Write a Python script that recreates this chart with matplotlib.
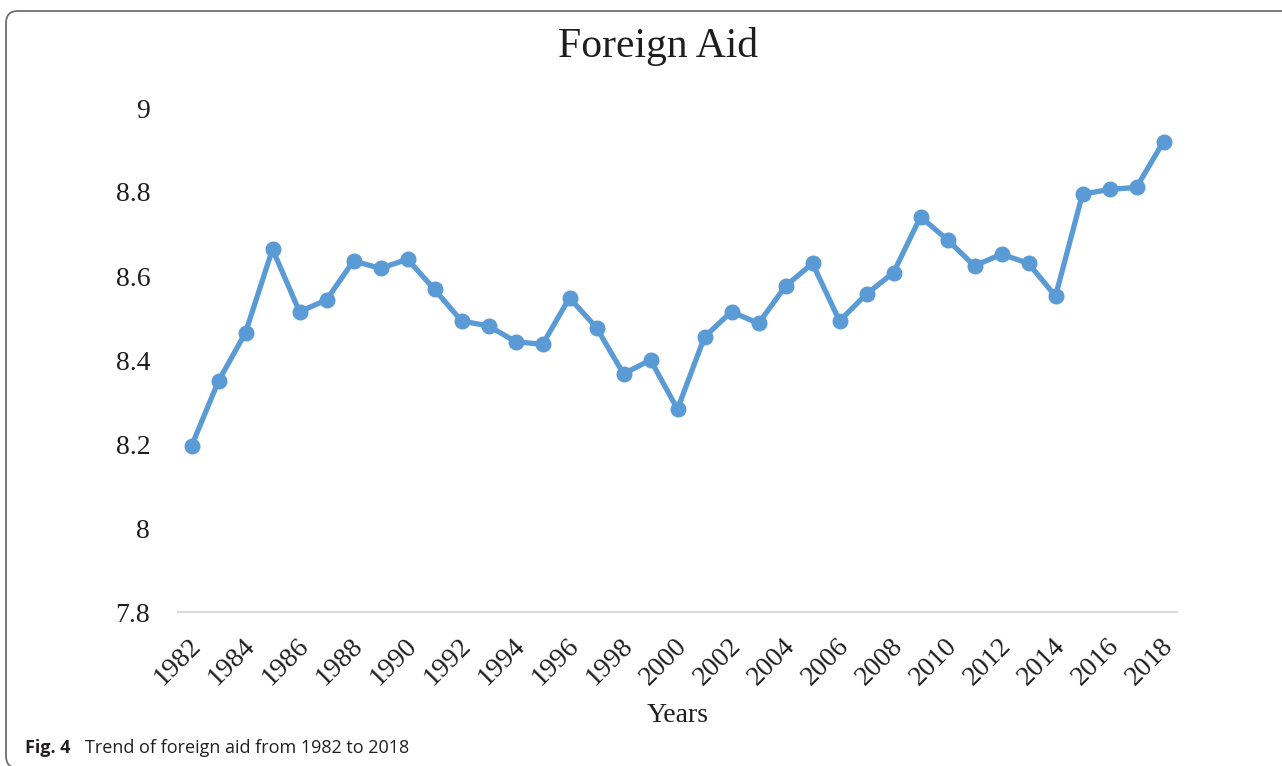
import matplotlib
matplotlib.use("Agg")
import matplotlib.pyplot as plt
from matplotlib.patches import FancyBboxPatch
import matplotlib.transforms as mtransforms

years = [1982, 1983, 1984, 1985, 1986, 1987, 1988, 1989, 1990, 1991,
         1992, 1993, 1994, 1995, 1996, 1997, 1998, 1999, 2000, 2001,
         2002, 2003, 2004, 2005, 2006, 2007, 2008, 2009, 2010, 2011,
         2012, 2013, 2014, 2015, 2016, 2017, 2018]
foreign_aid = [8.195, 8.350, 8.465, 8.664, 8.515, 8.543, 8.636, 8.618, 8.640, 8.568,
               8.493, 8.481, 8.444, 8.437, 8.548, 8.477, 8.367, 8.400, 8.283, 8.455,
               8.515, 8.487, 8.576, 8.630, 8.493, 8.557, 8.608, 8.741, 8.686, 8.624,
               8.652, 8.630, 8.552, 8.795, 8.806, 8.811, 8.920]
xtick_years = [1982, 1984, 1986, 1988, 1990, 1992, 1994, 1996, 1998, 2000,
               2002, 2004, 2006, 2008, 2010, 2012, 2014, 2016, 2018]
ytick_values = [7.8, 8.0, 8.2, 8.4, 8.6, 8.8, 9.0]
ytick_labels = ["7.8", "8", "8.2", "8.4", "8.6", "8.8", "9"]

W, H = 1282, 766
fig = plt.figure(figsize=(W / 100, H / 100), dpi=100)

# background frame (pixel coordinates)
bg = fig.add_axes([0, 0, 1, 1], zorder=-1)
bg.set_xlim(0, W)
bg.set_ylim(H, 0)
bg.axis("off")
frame = FancyBboxPatch((6, 11), 1320, 757, boxstyle="round,pad=0,rounding_size=12",
                       facecolor="white", edgecolor="#6f6f6f", linewidth=1.3)
bg.add_patch(frame)

serif = ["Liberation Serif", "DejaVu Serif"]

ax = fig.add_axes([178 / W, 1 - 612 / H, (1177 - 178) / W, (612 - 108) / H])
ax.set_facecolor("none")
ax.plot(years, foreign_aid, color="#5B9BD5", linewidth=3.8, marker="o",
        markersize=10.5, solid_joinstyle="round")
ax.set_xlim(1981.5, 2018.5)
ax.set_ylim(7.8, 9.0)
ax.set_yticks(ytick_values)
ax.set_yticklabels(ytick_labels, fontfamily=serif, fontsize=20, color="#1e1e1e")
ax.set_xticks(xtick_years)
ax.set_xticklabels([str(y) for y in xtick_years], fontfamily=serif, fontsize=20,
                   color="#1e1e1e", rotation=45, ha="right", va="center",
                   rotation_mode="anchor")
ax.tick_params(axis="y", length=0, pad=20)
ax.tick_params(axis="x", length=0, pad=22)
offset = mtransforms.ScaledTranslation(6 / 100, 0, fig.dpi_scale_trans)
for lbl in ax.get_xticklabels():
    lbl.set_transform(lbl.get_transform() + offset)
for s in ["top", "right", "left"]:
    ax.spines[s].set_visible(False)
ax.spines["bottom"].set_color("#D9D9D9")
ax.spines["bottom"].set_linewidth(1.5)

fig.text(658 / W, 1 - 46 / H, "Foreign Aid", fontfamily=serif, fontsize=30,
         ha="center", va="center", color="#1e1e1e")
fig.text(678 / W, 1 - 716 / H, "Years", fontfamily=serif, fontsize=20,
         ha="center", va="center", color="#1e1e1e")

fig.text(25 / W, 1 - 748 / H, "Fig. 4", fontfamily="Open Sans", fontsize=13,
         fontweight="bold", ha="left", va="center", color="#231f20")
fig.text(85 / W, 1 - 748 / H, "Trend of foreign aid from 1982 to 2018",
         fontfamily="Open Sans", fontsize=13, ha="left", va="center", color="#231f20")

fig.savefig("out.png", dpi=100)
